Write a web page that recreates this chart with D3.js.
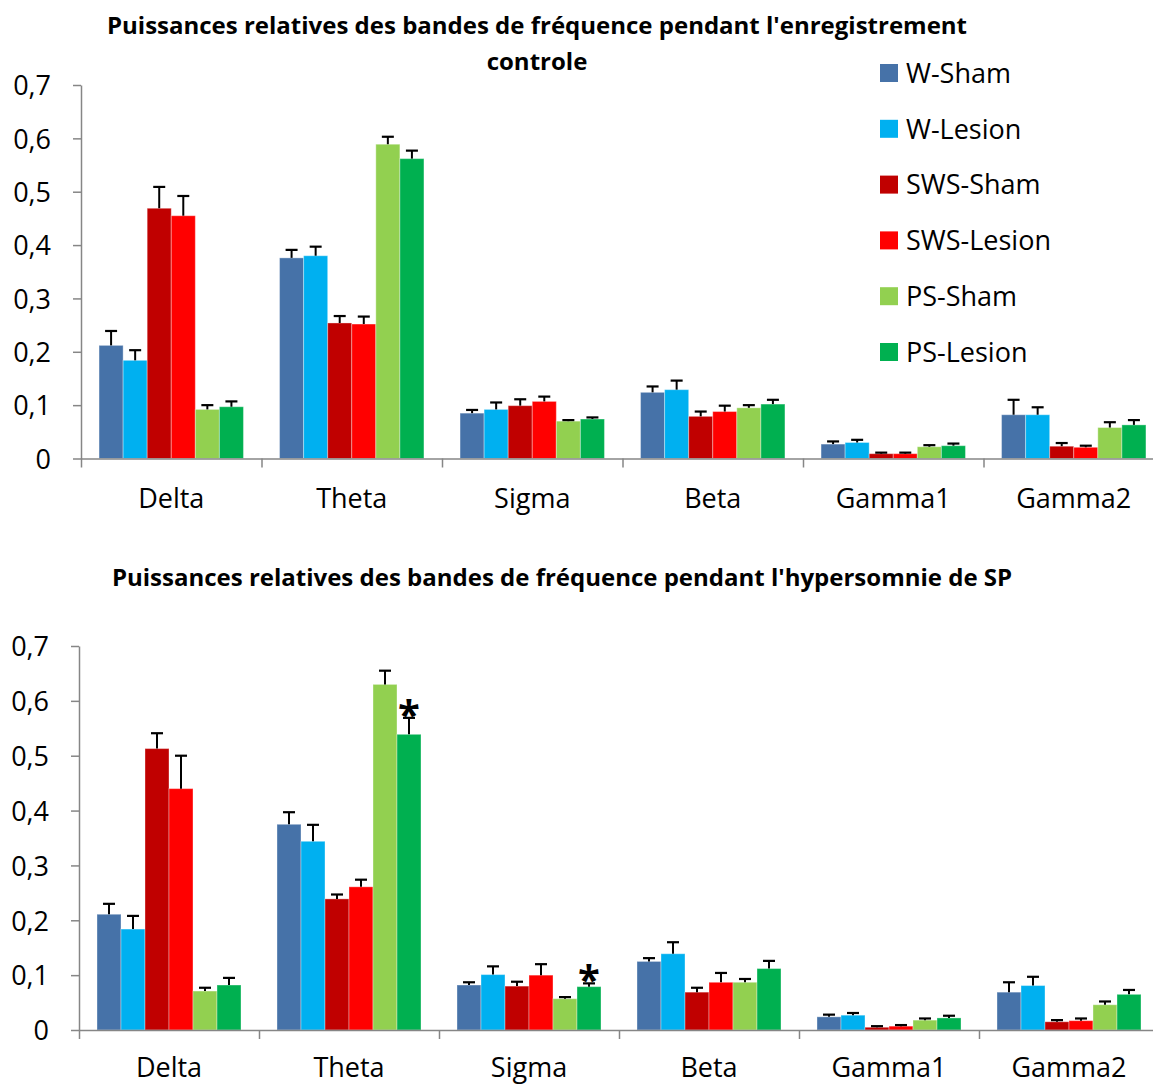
<!DOCTYPE html>
<html><head><meta charset="utf-8">
<script src="https://cdn.jsdelivr.net/npm/d3@7"></script>
<style>
html,body{margin:0;padding:0;background:#fff;}
svg{display:block;}
text{font-family:"Open Sans",sans-serif;fill:#000;}
</style></head>
<body>
<svg id="chart" width="1153" height="1086"></svg>
<script>
// ---- data ----
const categories = ["Delta","Theta","Sigma","Beta","Gamma1","Gamma2"];
const seriesNames = ["W-Sham","W-Lesion","SWS-Sham","SWS-Lesion","PS-Sham","PS-Lesion"];
const seriesColors = ["#4672A8","#00B0F0","#C00000","#FF0000","#92D050","#00B050"];
const yTicks = [0,0.1,0.2,0.3,0.4,0.5,0.6,0.7];

const title1 = ["Puissances relatives des bandes de fréquence pendant l'enregistrement","controle"];
const title2 = ["Puissances relatives des bandes de fréquence pendant l'hypersomnie de SP"];

// control recording: mean values per series (Delta..Gamma2)
const ctlWSham     = [0.212, 0.376, 0.085, 0.124, 0.027, 0.082];
const ctlWLesion   = [0.184, 0.380, 0.092, 0.129, 0.030, 0.082];
const ctlSWSSham   = [0.469, 0.254, 0.099, 0.079, 0.009, 0.023];
const ctlSWSLesion = [0.455, 0.252, 0.107, 0.088, 0.009, 0.021];
const ctlPSSham    = [0.092, 0.589, 0.070, 0.095, 0.022, 0.058];
const ctlPSLesion  = [0.097, 0.562, 0.074, 0.102, 0.024, 0.063];
// control recording: error (SEM)
const ctlErrWSham     = [0.027, 0.015, 0.006, 0.011, 0.005, 0.028];
const ctlErrWLesion   = [0.019, 0.017, 0.013, 0.017, 0.005, 0.014];
const ctlErrSWSSham   = [0.040, 0.013, 0.012, 0.009, 0.002, 0.006];
const ctlErrSWSLesion = [0.037, 0.014, 0.009, 0.011, 0.002, 0.003];
const ctlErrPSSham    = [0.008, 0.014, 0.002, 0.005, 0.003, 0.010];
const ctlErrPSLesion  = [0.010, 0.015, 0.003, 0.008, 0.004, 0.009];

// PS hypersomnia: mean values
const hypWSham     = [0.211, 0.375, 0.082, 0.125, 0.024, 0.069];
const hypWLesion   = [0.184, 0.344, 0.101, 0.139, 0.027, 0.081];
const hypSWSSham   = [0.513, 0.239, 0.080, 0.069, 0.005, 0.015];
const hypSWSLesion = [0.440, 0.261, 0.100, 0.087, 0.007, 0.017];
const hypPSSham    = [0.071, 0.630, 0.057, 0.087, 0.018, 0.046];
const hypPSLesion  = [0.082, 0.539, 0.079, 0.112, 0.022, 0.065];
// PS hypersomnia: error (SEM)
const hypErrWSham     = [0.019, 0.022, 0.005, 0.006, 0.004, 0.018];
const hypErrWLesion   = [0.024, 0.030, 0.015, 0.021, 0.004, 0.016];
const hypErrSWSSham   = [0.028, 0.008, 0.008, 0.008, 0.002, 0.003];
const hypErrSWSLesion = [0.060, 0.013, 0.020, 0.017, 0.002, 0.004];
const hypErrPSSham    = [0.006, 0.025, 0.003, 0.006, 0.003, 0.006];
const hypErrPSLesion  = [0.013, 0.030, 0.006, 0.014, 0.004, 0.008];

// significance marks (hypersomnia chart)
const hypSignif = [["Theta","PS-Lesion"],["Sigma","PS-Lesion"]];

const ctlValues = [ctlWSham, ctlWLesion, ctlSWSSham, ctlSWSLesion, ctlPSSham, ctlPSLesion];
const ctlErrors = [ctlErrWSham, ctlErrWLesion, ctlErrSWSSham, ctlErrSWSLesion, ctlErrPSSham, ctlErrPSLesion];
const hypValues = [hypWSham, hypWLesion, hypSWSSham, hypSWSLesion, hypPSSham, hypPSLesion];
const hypErrors = [hypErrWSham, hypErrWLesion, hypErrSWSSham, hypErrSWSLesion, hypErrPSSham, hypErrPSLesion];

// ---- drawing ----
const svg = d3.select("#chart");
const fmt = d => d === 0 ? "0" : d.toFixed(1).replace(".", ",");
const axisColor = "#868686";

function drawChart(cfg) {
  const g = svg.append("g");
  const x0 = d3.scaleBand().domain(categories).range([cfg.left, cfg.left + cfg.catW * categories.length]).padding(0);
  const x1 = d3.scaleBand().domain(seriesNames).range([cfg.catW * 0.1, cfg.catW * 0.9]).padding(0);
  const y = d3.scaleLinear().domain([0, 0.7]).range([cfg.bottom, cfg.top]);

  // bars
  const rows = [];
  categories.forEach((c, ci) => seriesNames.forEach((s, si) => {
    rows.push({c, s, si, v: cfg.values[si][ci], e: cfg.errors[si][ci]});
  }));
  const bars = g.append("g").selectAll("g").data(rows).join("g")
    .attr("transform", d => `translate(${x0(d.c) + x1(d.s)},0)`);
  bars.append("rect")
    .attr("x", 0).attr("width", x1.bandwidth())
    .attr("y", d => y(d.v)).attr("height", d => y(0) - y(d.v))
    .attr("fill", d => seriesColors[d.si])
    .attr("stroke", "rgba(255,255,255,0.35)").attr("stroke-width", 1);
  // error bars (upper)
  const bw = x1.bandwidth();
  bars.append("line")
    .attr("x1", bw / 2).attr("x2", bw / 2)
    .attr("y1", d => y(d.v)).attr("y2", d => y(d.v + d.e))
    .attr("stroke", "#000").attr("stroke-width", 2);
  bars.append("line")
    .attr("x1", bw / 2 - 6).attr("x2", bw / 2 + 6)
    .attr("y1", d => y(d.v + d.e)).attr("y2", d => y(d.v + d.e))
    .attr("stroke", "#000").attr("stroke-width", 2.2);

  // significance
  if (cfg.signif) {
    g.append("g").selectAll("text").data(cfg.signif).join("text")
      .attr("x", d => x0(d[0]) + x1(d[1]) + bw / 2)
      .attr("y", d => {
        const ci = categories.indexOf(d[0]), si = seriesNames.indexOf(d[1]);
        return y(cfg.values[si][ci] + cfg.errors[si][ci]) + 11;
      })
      .attr("text-anchor", "middle")
      .style("font-size", "40px").style("font-weight", "700")
      .text("*");
  }

  // y axis
  const yAxis = g.append("g").attr("transform", `translate(${cfg.left},0)`)
    .call(d3.axisLeft(y).tickValues(yTicks).tickFormat(fmt).tickSize(8).tickPadding(22).tickSizeOuter(0));
  yAxis.select(".domain").attr("stroke", axisColor).attr("stroke-width", 1.5);
  yAxis.selectAll(".tick line").attr("stroke", axisColor).attr("stroke-width", 1.5);
  yAxis.selectAll(".tick text").style("font-size", "27px").style("font-family", "Open Sans").attr("fill", "#000").attr("dy", "0.36em");

  // x axis with boundary ticks
  const bounds = d3.range(categories.length + 1).map(i => cfg.left + i * cfg.catW);
  const xb = d3.scaleLinear().domain([cfg.left, 1200]).range([cfg.left, 1200]);
  const xAxis = g.append("g").attr("transform", `translate(0,${y(0)})`)
    .call(d3.axisBottom(xb).tickValues(bounds).tickFormat("").tickSize(9).tickSizeOuter(0));
  xAxis.select(".domain").attr("stroke", axisColor).attr("stroke-width", 1.5);
  xAxis.selectAll(".tick line").attr("stroke", axisColor).attr("stroke-width", 1.5);
  g.append("g").selectAll("text").data(categories).join("text")
    .attr("x", d => x0(d) + x0.bandwidth() / 2)
    .attr("y", y(0) + cfg.labelOffset)
    .attr("text-anchor", "middle")
    .style("font-size", "27px")
    .text(d => d);

  // title
  g.append("g").selectAll("text").data(cfg.title).join("text")
    .attr("x", cfg.titleX).attr("y", (d, i) => cfg.titleY + i * 36)
    .attr("text-anchor", "middle")
    .style("font-size", "24px").style("font-weight", "700")
    .text(d => d);
}

drawChart({left: 81, catW: 180.5, top: 85, bottom: 458.5, values: ctlValues, errors: ctlErrors,
  title: title1, titleX: 537, titleY: 34, labelOffset: 49});
drawChart({left: 79, catW: 180, top: 646, bottom: 1030, values: hypValues, errors: hypErrors,
  title: title2, titleX: 562, titleY: 586, labelOffset: 47, signif: hypSignif});

// legend (top chart)
const legend = svg.append("g").selectAll("g").data(seriesNames).join("g")
  .attr("transform", (d, i) => `translate(880,${73 + i * 55.8})`);
legend.append("rect").attr("x", 0).attr("y", -9).attr("width", 18).attr("height", 18)
  .attr("fill", (d, i) => seriesColors[i]);
legend.append("text").attr("x", 26).attr("y", 0).attr("dy", "0.36em")
  .style("font-size", "27px").text(d => d);
</script>
</body></html>
